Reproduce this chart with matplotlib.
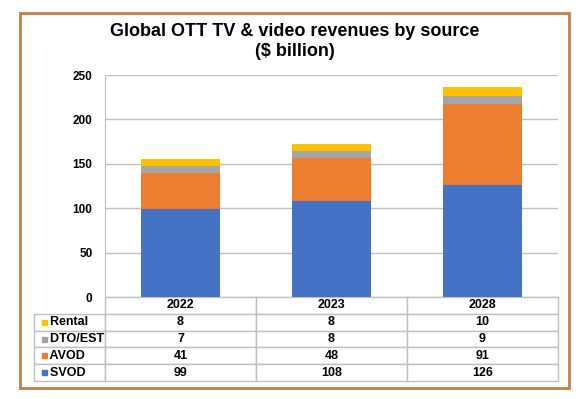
import matplotlib.pyplot as plt
from matplotlib.patches import Rectangle

plt.rcParams['font.family'] = ['Liberation Sans', 'DejaVu Sans']
plt.rcParams['font.weight'] = 'bold'

years = ["2022", "2023", "2028"]
svod = [99, 108, 126]
avod = [41, 48, 91]
dto_est = [7, 8, 9]
rental = [8, 8, 10]

series_names = ["SVOD", "AVOD", "DTO/EST", "Rental"]
series_values = [svod, avod, dto_est, rental]
colors = ["#4472C4", "#ED7D31", "#A5A5A5", "#FFC000"]

fig = plt.figure(figsize=(5.83, 3.99), dpi=100)
W, H = 583, 399

# outer frame
fig.patches.append(Rectangle((20 / W, 1 - 388 / H), 549 / W, 375 / H,
                             transform=fig.transFigure, fill=False,
                             edgecolor="#C27F4B", linewidth=2))

fig.text(295 / W, 1 - 31 / H, "Global OTT TV & video revenues by source",
         ha="center", va="center", fontsize=13, fontweight="bold")
fig.text(295 / W, 1 - 51 / H, "($ billion)",
         ha="center", va="center", fontsize=13, fontweight="bold")

ax = fig.add_axes([105 / W, 1 - 297 / H, 453 / W, 222 / H])

x = range(len(years))
bottom = [0] * len(years)
for name, vals, c in zip(series_names, series_values, colors):
    ax.bar(x, vals, bottom=bottom, width=0.52, color=c, label=name, zorder=3)
    bottom = [b + v for b, v in zip(bottom, vals)]

ax.set_xlim(-0.5, len(years) - 0.5)
ax.set_ylim(0, 250)
ax.set_yticks(range(0, 251, 50))
ax.set_xticks([])
ax.tick_params(axis="y", length=0, pad=9, labelsize=8.5)
for lab in ax.get_yticklabels():
    lab.set_fontweight("bold")
ax.grid(axis="y", color="#BFBFBF", linewidth=1, zorder=0)
for s in ["top", "right", "bottom"]:
    ax.spines[s].set_visible(False)
ax.spines["left"].set_color("#BFBFBF")

# data table (top row = last series)
row_labels = list(reversed(series_names))
cell_text = [[str(v) for v in vals] for vals in reversed(series_values)]
table_h = 84 / 222
label_w = 68 / 453
tbl = ax.table(cellText=cell_text, rowLabels=["    " + r for r in row_labels],
               colLabels=years, colWidths=[1 / 3] * 3,
               cellLoc="center", rowLoc="left",
               bbox=[0, -table_h, 1, table_h])
tbl.auto_set_font_size(False)
tbl.set_fontsize(9)
for (r, c), cell in tbl.get_celld().items():
    cell.set_edgecolor("#BFBFBF")
    cell.set_linewidth(1)
    cell.get_text().set_fontweight("bold")
    cell.PAD = 0.02
    if c == -1:
        cell.set_width(label_w)

# colored legend keys in row label cells
row_h = table_h / 5
for i, c in enumerate(reversed(colors)):
    yc = -table_h + (3.5 - i) * row_h
    ax.add_patch(Rectangle((-label_w + 5 / 453, yc - 2.5 / 222), 5 / 453, 5 / 222,
                           transform=ax.transAxes, color=c, clip_on=False,
                           zorder=5))

fig.savefig("out.png", dpi=100)
